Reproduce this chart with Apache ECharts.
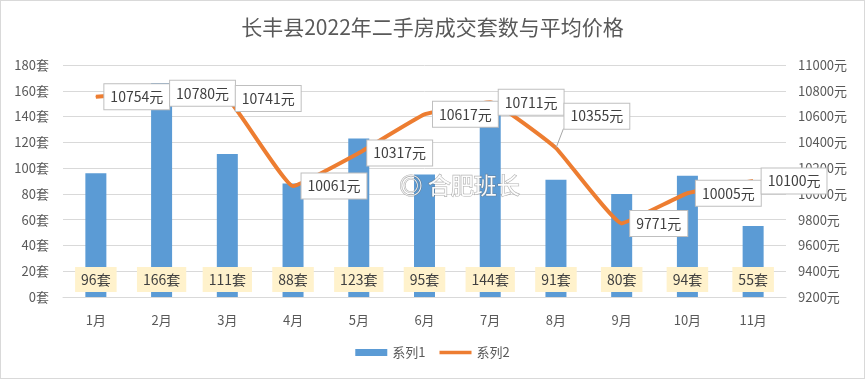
<!DOCTYPE html>
<html><head><meta charset="utf-8">
<script src="https://cdn.jsdelivr.net/npm/echarts@6/dist/echarts.min.js"></script>
<style>html,body{margin:0;padding:0;background:#fff}#c{width:865px;height:379px;box-sizing:border-box;border:1px solid #d9d9d9}</style>
</head><body><div id="c"></div>
<script>
const categories = ['1月','2月','3月','4月','5月','6月','7月','8月','9月','10月','11月'];
const counts = [96,166,111,88,123,95,144,91,80,94,55];
const prices = [10754,10780,10741,10061,10317,10617,10711,10355,9771,10005,10100];
const titleText = '长丰县2022年二手房成交套数与平均价格';
const seriesNames = ['系列1','系列2'];

const font = '"Noto Sans CJK SC", "Noto Sans", sans-serif';
const chart = echarts.init(document.getElementById('c'));
const priceData = prices.map((v,i)=>{
  if (i === 7) return {value:v, label:{offset:[0,-32]}, labelLine:{show:true, lineStyle:{color:'#a6a6a6', width:1}}};
  return v;
});
chart.setOption({
  animation:false,
  textStyle:{fontFamily:font},
  title:{text:titleText,left:'center',top:11,textStyle:{fontSize:21,fontWeight:'normal',color:'#595959',fontFamily:font}},
  grid:{left:62,right:78,top:64,bottom:81},
  legend:{bottom:14,left:'center',itemGap:14,itemWidth:32,itemHeight:7,textStyle:{color:'#595959',fontSize:13},
    data:[{name:seriesNames[0],icon:'rect'},
          {name:seriesNames[1],icon:'path://M0,1.8 L32,1.8 L32,5.2 L0,5.2 Z M0,0 L0.01,0 L0.01,7 L0,7 Z'}]},
  xAxis:{type:'category',data:categories,axisTick:{show:false},axisLine:{lineStyle:{color:'#d9d9d9'}},
    axisLabel:{color:'#595959',fontSize:13,margin:17}},
  yAxis:[
    {type:'value',min:0,max:180,interval:20,axisLabel:{formatter:'{value}套',color:'#595959',fontSize:13,margin:14},
     splitLine:{lineStyle:{color:'#d9d9d9'}},axisLine:{show:false},axisTick:{show:false}},
    {type:'value',min:9200,max:11000,interval:200,position:'right',axisLabel:{formatter:v=>v+'元',color:'#595959',fontSize:13,margin:12},
     splitLine:{show:false},axisLine:{show:false},axisTick:{show:false}}
  ],
  series:[
    {name:seriesNames[0],type:'bar',data:counts,barWidth:21,itemStyle:{color:'#5b9bd5'},
     label:{show:true,position:'insideBottom',distance:5,formatter:'{c}套',color:'#404040',fontSize:14,
       backgroundColor:'#fff2cc',padding:[6,6,5,6]}},
    {name:seriesNames[1],type:'line',yAxisIndex:1,data:priceData,smooth:0.1,symbol:'circle',symbolSize:1,
     itemStyle:{color:'#ed7d31'},lineStyle:{color:'#ed7d31',width:4},
     label:{show:true,position:'right',distance:8,formatter:'{c}元',color:'#404040',fontSize:14,
       backgroundColor:'#fff',borderColor:'#bfbfbf',borderWidth:1,padding:[6,6,5,6]}}
  ],
  graphic:[{type:'text',left:398,top:172,z:100,style:{text:'◎ 合肥班长',fontSize:23,fill:'rgba(255,255,255,0.95)',stroke:'rgba(110,110,110,0.55)',lineWidth:1.2,fontFamily:font}}]
});
</script></body></html>
